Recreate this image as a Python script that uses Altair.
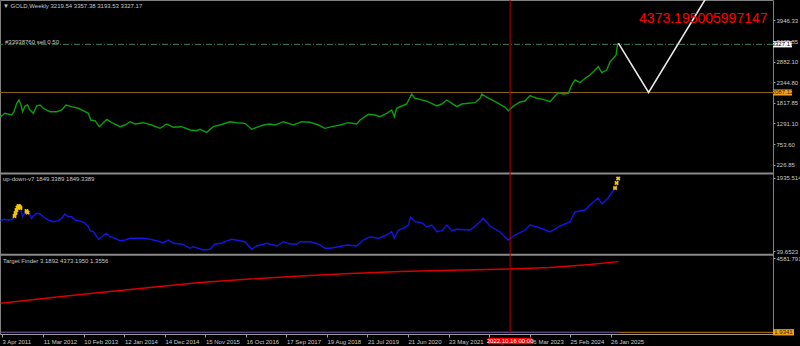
import altair as alt
import pandas as pd

# ---------------- data ----------------
price_year = [2011.218, 2011.320, 2011.472, 2011.525, 2011.586, 2011.638, 2011.684, 2011.722, 2011.774, 2011.827,
              2011.888, 2011.963, 2012.040, 2012.115, 2012.190, 2012.342, 2012.494, 2012.608, 2012.705, 2012.835,
              2012.985, 2013.137, 2013.212, 2013.266, 2013.364, 2013.461, 2013.552, 2013.630, 2013.743, 2013.931,
              2014.045, 2014.159, 2014.272, 2014.460, 2014.651, 2014.840, 2014.992, 2015.142, 2015.332, 2015.521,
              2015.673, 2015.748, 2015.900, 2016.050, 2016.202, 2016.429, 2016.581, 2016.770, 2016.922, 2017.036,
              2017.185, 2017.337, 2017.451, 2017.640, 2017.867, 2018.057, 2018.246, 2018.434, 2018.586, 2018.738,
              2018.927, 2019.115, 2019.306, 2019.381, 2019.570, 2019.722, 2019.835, 2019.987, 2020.101, 2020.160,
              2020.214, 2020.328, 2020.441, 2020.555, 2020.630, 2020.743, 2020.857, 2020.970, 2021.122, 2021.236,
              2021.350, 2021.463, 2021.577, 2021.690, 2021.840, 2021.992, 2022.106, 2022.145, 2022.258, 2022.408,
              2022.522, 2022.674, 2022.749, 2022.862, 2023.014, 2023.128, 2023.241, 2023.393, 2023.543, 2023.695,
              2023.809, 2023.884, 2023.997, 2024.111, 2024.188, 2024.263, 2024.377, 2024.490, 2024.604, 2024.717,
              2024.792, 2024.870, 2024.983, 2025.058, 2025.133, 2025.194, 2025.224, 2025.246]
price_value = [1463, 1551, 1507, 1592, 1808, 1893, 1765, 1592, 1739, 1765,
               1636, 1551, 1739, 1765, 1680, 1592, 1592, 1636, 1765, 1721,
               1680, 1592, 1551, 1378, 1360, 1206, 1309, 1396, 1309, 1206,
               1249, 1334, 1275, 1309, 1249, 1164, 1275, 1190, 1206, 1121,
               1103, 1139, 1061, 1206, 1249, 1334, 1309, 1293, 1139, 1190,
               1249, 1275, 1249, 1334, 1249, 1334, 1319, 1249, 1164, 1206,
               1249, 1309, 1275, 1378, 1525, 1507, 1463, 1551, 1636, 1463,
               1680, 1739, 1790, 2048, 1937, 1911, 1875, 1824, 1739, 1790,
               1893, 1808, 1721, 1790, 1808, 1824, 1937, 2048, 1963, 1875,
               1808, 1705, 1618, 1735, 1842, 1868, 2009, 1937, 1911, 1850,
               1996, 2081, 2048, 2066, 2280, 2409, 2339, 2452, 2537, 2666,
               2751, 2597, 2666, 2880, 2968, 3053, 3310, 3357]

ud_year = [2011.218, 2011.282, 2011.395, 2011.495, 2011.547, 2011.622, 2011.677, 2011.722, 2011.774, 2011.849,
           2011.926, 2011.963, 2012.040, 2012.115, 2012.190, 2012.303, 2012.417, 2012.530, 2012.608, 2012.683,
           2012.757, 2012.835, 2012.910, 2012.985, 2013.062, 2013.137, 2013.212, 2013.250, 2013.325, 2013.439,
           2013.516, 2013.614, 2013.704, 2013.818, 2013.931, 2014.045, 2014.159, 2014.311, 2014.460, 2014.613,
           2014.765, 2014.915, 2015.028, 2015.142, 2015.332, 2015.521, 2015.596, 2015.823, 2015.975, 2016.089,
           2016.241, 2016.316, 2016.468, 2016.656, 2016.770, 2016.922, 2017.036, 2017.262, 2017.490, 2017.639,
           2017.791, 2017.943, 2018.019, 2018.246, 2018.434, 2018.586, 2018.700, 2018.888, 2019.079, 2019.306,
           2019.456, 2019.608, 2019.797, 2019.987, 2020.101, 2020.153, 2020.251, 2020.364, 2020.478, 2020.532,
           2020.630, 2020.782, 2020.896, 2021.009, 2021.122, 2021.236, 2021.350, 2021.463, 2021.577, 2021.879,
           2022.106, 2022.174, 2022.333, 2022.560, 2022.742, 2022.900, 2023.128, 2023.241, 2023.468, 2023.695,
           2023.922, 2024.149, 2024.263, 2024.490, 2024.604, 2024.785, 2024.876, 2025.012, 2025.103, 2025.194,
           2025.246]
ud_value = [819, 863, 845, 863, 1019, 1190, 1123, 930, 1034, 1060,
            889, 949, 1019, 1001, 930, 845, 801, 827, 889, 1001,
            930, 930, 845, 827, 801, 759, 671, 559, 541, 344,
            411, 499, 411, 370, 307, 325, 370, 370, 370, 344,
            307, 255, 325, 240, 222, 110, 151, 66, 84, 222,
            240, 281, 344, 307, 281, 84, 170, 240, 170, 281,
            222, 222, 281, 281, 222, 110, 110, 151, 196, 170,
            325, 411, 370, 455, 541, 370, 585, 629, 715, 915,
            801, 775, 671, 715, 541, 567, 715, 567, 603, 585,
            793, 897, 689, 533, 325, 455, 585, 715, 637, 533,
            689, 793, 1053, 1105, 1234, 1416, 1260, 1416, 1572, 1702,
            1849]

cross_year = [2011.536, 2011.559, 2011.581, 2011.604, 2011.627, 2011.650, 2011.672, 2011.808, 2011.831,
              2025.171, 2025.205, 2025.240]
cross_value = [949, 1026, 1105, 1169, 1208, 1195, 1156, 1078, 1040, 1676, 1806, 1923]

tf_year = [2011.218, 2012.342, 2013.477, 2014.613, 2015.748, 2016.883, 2018.019, 2019.154, 2020.289,
           2021.425, 2022.560, 2023.695, 2024.604, 2025.246]
tf_value = [1797, 2137, 2465, 2775, 3084, 3301, 3486, 3641, 3765, 3839, 3901, 4012, 4198, 4373]

zig_year = [2025.246, 2025.932, 2027.555]
zig_value = [3357, 2087.12, 5110]

target_text = "4373.195005997147"
target_year = [2025.716]
target_value = [3877]

level_main = [2087.12]
order_price = [3327.0]
close_price = [3327.17]
tf_level = [1.9341]
tf_level_years = [2011.218, 2025.246]
vline_date = ["2022-10-16"]
vline_label = "2022.10.16 00:00"

tick_dates = ["2011-04-03", "2012-03-11", "2013-02-10", "2014-01-12", "2014-12-14", "2015-11-15",
              "2016-10-16", "2017-09-17", "2018-08-19", "2019-07-21", "2020-06-21", "2021-05-23",
              "2022-04-24", "2023-03-26", "2024-02-25", "2025-01-26"]
main_ticks = [226.85, 753.60, 1291.10, 1817.85, 2344.80, 2882.10, 3409.85, 3946.33]
ud_ticks = [39.6523, 1935.5145]
tf_ticks = [4581.7917]

title_text = "\u25bc GOLD,Weekly  3219.54 3357.38 3193.53 3327.17"
order_text = "#33938760 sell 0.50"
ud_text = "up-down-v7 1849.3389 1849.3389"
tf_text = "Target Finder 3.1892 4373.1950 1.3556"


# ---------------- helpers ----------------
def yr_to_ts(y):
    yi = int(y)
    return (pd.Timestamp(year=yi, month=1, day=1) + pd.Timedelta(days=(y - yi) * 365.25)).round("min")


def dt(ts):
    return alt.DateTime(year=ts.year, month=ts.month, date=ts.day, hours=ts.hour, minutes=ts.minute)


def frame(years, values):
    return pd.DataFrame({"t": [yr_to_ts(y) for y in years], "v": values})


XS = alt.Scale(domain=[dt(yr_to_ts(2011.2066)), dt(yr_to_ts(2028.7586))], nice=False)
S1 = alt.Scale(domain=[38.8, 4469.2], range=[172, 0], nice=False, zero=False)
S2 = alt.Scale(domain=[-25.2, 2013.4], range=[253.5, 175], nice=False, zero=False)
S3 = alt.Scale(domain=[-103.4, 4693.1], range=[334, 256.5], nice=False, zero=False)

FONT = "Liberation Sans"
LBL = "#c8c8c8"
yax = dict(labelColor=LBL, labelFont=FONT, labelFontSize=6, tickColor="#9a9a9a", tickSize=2,
           labelPadding=1, domain=False, grid=False, orient="right", title=None,
           labelOverlap=False, labelFlush=False)
A1 = alt.Axis(values=main_ticks, format=".2f", **yax)
A2 = alt.Axis(values=ud_ticks, format=".4f", **yax)
A3 = alt.Axis(values=tf_ticks, format=".4f", **yax)
AX = alt.Axis(values=[dt(pd.Timestamp(d)) for d in tick_dates], format="%-d %b %Y", orient="bottom",
              labelAlign="left", labelBaseline="top", labelPadding=1, labelFontSize=6, labelColor=LBL,
              labelFont=FONT, tickColor="#9a9a9a", tickSize=3, domainColor="#9a9a9a", grid=False,
              title=None, labelOverlap=False, labelFlush=False)


def X():
    return alt.X("t:T", scale=XS, axis=AX)


def Y(scale, axis=None):
    return alt.Y("v:Q", scale=scale, axis=axis)


dummy = pd.DataFrame({"a": [0]})

# ---------------- main panel ----------------
order_line = alt.Chart(pd.DataFrame({"v": order_price})).mark_rule(
    color="#3f7f55", strokeWidth=1, strokeDash=[6, 2, 1, 2]).encode(y=Y(S1))
level_line = alt.Chart(pd.DataFrame({"v": level_main})).mark_rule(
    color="#8a6420", strokeWidth=1).encode(y=Y(S1))
price_line = alt.Chart(frame(price_year, price_value)).mark_line(
    color="#0b9e0b", strokeWidth=1.4).encode(x=X(), y=Y(S1, A1))
zig_line = alt.Chart(frame(zig_year, zig_value)).mark_line(
    color="#e8e8e8", strokeWidth=1.6, clip=True).encode(x=X(), y=Y(S1))
target_label = alt.Chart(frame(target_year, target_value)).mark_text(
    text=target_text, color="#ff0000", fontSize=14, font=FONT, align="left", baseline="alphabetic"
).encode(x=X(), y=Y(S1))

box_shape = "M-1,-0.32H1V0.32H-1Z"
close_box = alt.Chart(pd.DataFrame({"v": close_price})).mark_point(
    shape=box_shape, size=361, filled=True, opacity=1, color="#ffffff", strokeWidth=0
).encode(x=alt.value(782.5), y=Y(S1))
close_txt = alt.Chart(pd.DataFrame({"v": close_price})).mark_text(
    text="3327.17", color="#000000", fontSize=6, font=FONT, align="center", baseline="middle"
).encode(x=alt.value(782.5), y=Y(S1))
level_box = alt.Chart(pd.DataFrame({"v": level_main})).mark_point(
    shape=box_shape, size=361, filled=True, opacity=1, color="#f0a020", strokeWidth=0
).encode(x=alt.value(782.5), y=Y(S1))
level_txt = alt.Chart(pd.DataFrame({"v": level_main})).mark_text(
    text="2087.12", color="#3a2a00", fontSize=6, font=FONT, align="center", baseline="middle"
).encode(x=alt.value(782.5), y=Y(S1))

# ---------------- up-down panel ----------------
ud_line = alt.Chart(frame(ud_year, ud_value)).mark_line(
    color="#1414e6", strokeWidth=1.4).encode(x=X(), y=Y(S2, A2))
ud_cross = alt.Chart(frame(cross_year, cross_value)).mark_point(
    shape="cross", angle=45, filled=True, size=22, color="#f5c400", opacity=1
).encode(x=X(), y=Y(S2))

# ---------------- target finder panel ----------------
tf_level_line = alt.Chart(pd.DataFrame({"v": tf_level})).mark_rule(
    color="#c47a1a", strokeWidth=1).encode(y=Y(S3))
tf_blue = alt.Chart(frame(tf_level_years, tf_level * 2)).mark_line(
    color="#3030c8", strokeWidth=1, opacity=0.75).encode(x=X(), y=Y(S3))
tf_line = alt.Chart(frame(tf_year, tf_value)).mark_line(
    color="#d80000", strokeWidth=1.4).encode(x=X(), y=Y(S3, A3))
tf_box = alt.Chart(pd.DataFrame({"v": tf_level})).mark_point(
    shape="M-1,-0.3H1V0.3H-1Z", size=441, filled=True, opacity=1, color="#f0a020", strokeWidth=0
).encode(x=alt.value(783.5), y=Y(S3))
tf_txt = alt.Chart(pd.DataFrame({"v": tf_level})).mark_text(
    text="1.9341", color="#3a2a00", fontSize=6, font=FONT, align="center", baseline="middle"
).encode(x=alt.value(783.5), y=Y(S3))

# ---------------- frame, cursor line, labels ----------------
sep1 = alt.Chart(dummy).mark_rule(color="#8a8a8a", strokeWidth=2).encode(
    x=alt.value(0), x2=alt.value(773), y=alt.value(173.5))
sep2 = alt.Chart(dummy).mark_rule(color="#8a8a8a", strokeWidth=2).encode(
    x=alt.value(0), x2=alt.value(773), y=alt.value(254.8))

vdf = pd.DataFrame({"t": pd.to_datetime(vline_date)})
vline = alt.Chart(vdf).mark_rule(color="#b40000", strokeWidth=1).encode(x=X())
vbox = alt.Chart(vdf).mark_point(
    shape="M-1,-0.15H1V0.15H-1Z", size=1936, filled=True, opacity=1, color="#ff0000", strokeWidth=0
).encode(x=X(), y=alt.value(341))
vtxt = alt.Chart(vdf).mark_text(
    text=vline_label, color="#ffffff", fontSize=6, font=FONT, align="center", baseline="middle"
).encode(x=X(), y=alt.value(341))


def label(text, x, y, size=6):
    return alt.Chart(dummy).mark_text(
        text=text, color=LBL, fontSize=size, font=FONT, align="left", baseline="middle"
    ).encode(x=alt.value(x), y=alt.value(y))


chart = alt.layer(
    order_line, level_line, price_line, zig_line, target_label,
    ud_line, ud_cross,
    tf_level_line, tf_blue, tf_line,
    sep1, sep2, vline,
    close_box, close_txt, level_box, level_txt, tf_box, tf_txt, vbox, vtxt,
    label(title_text, 3, 5.5), label(order_text, 5, 41.5), label(ud_text, 3, 179), label(tf_text, 3, 260.5),
).resolve_scale(y="independent").properties(
    width=773, height=334,
    autosize=alt.AutoSizeParams(type="none"),
    padding={"left": 0, "top": 0, "right": 27, "bottom": 12},
    background="#000000",
).configure_view(stroke="#808080", strokeWidth=1)

chart.save("out.html", embed_options={"renderer": "svg", "actions": False})
